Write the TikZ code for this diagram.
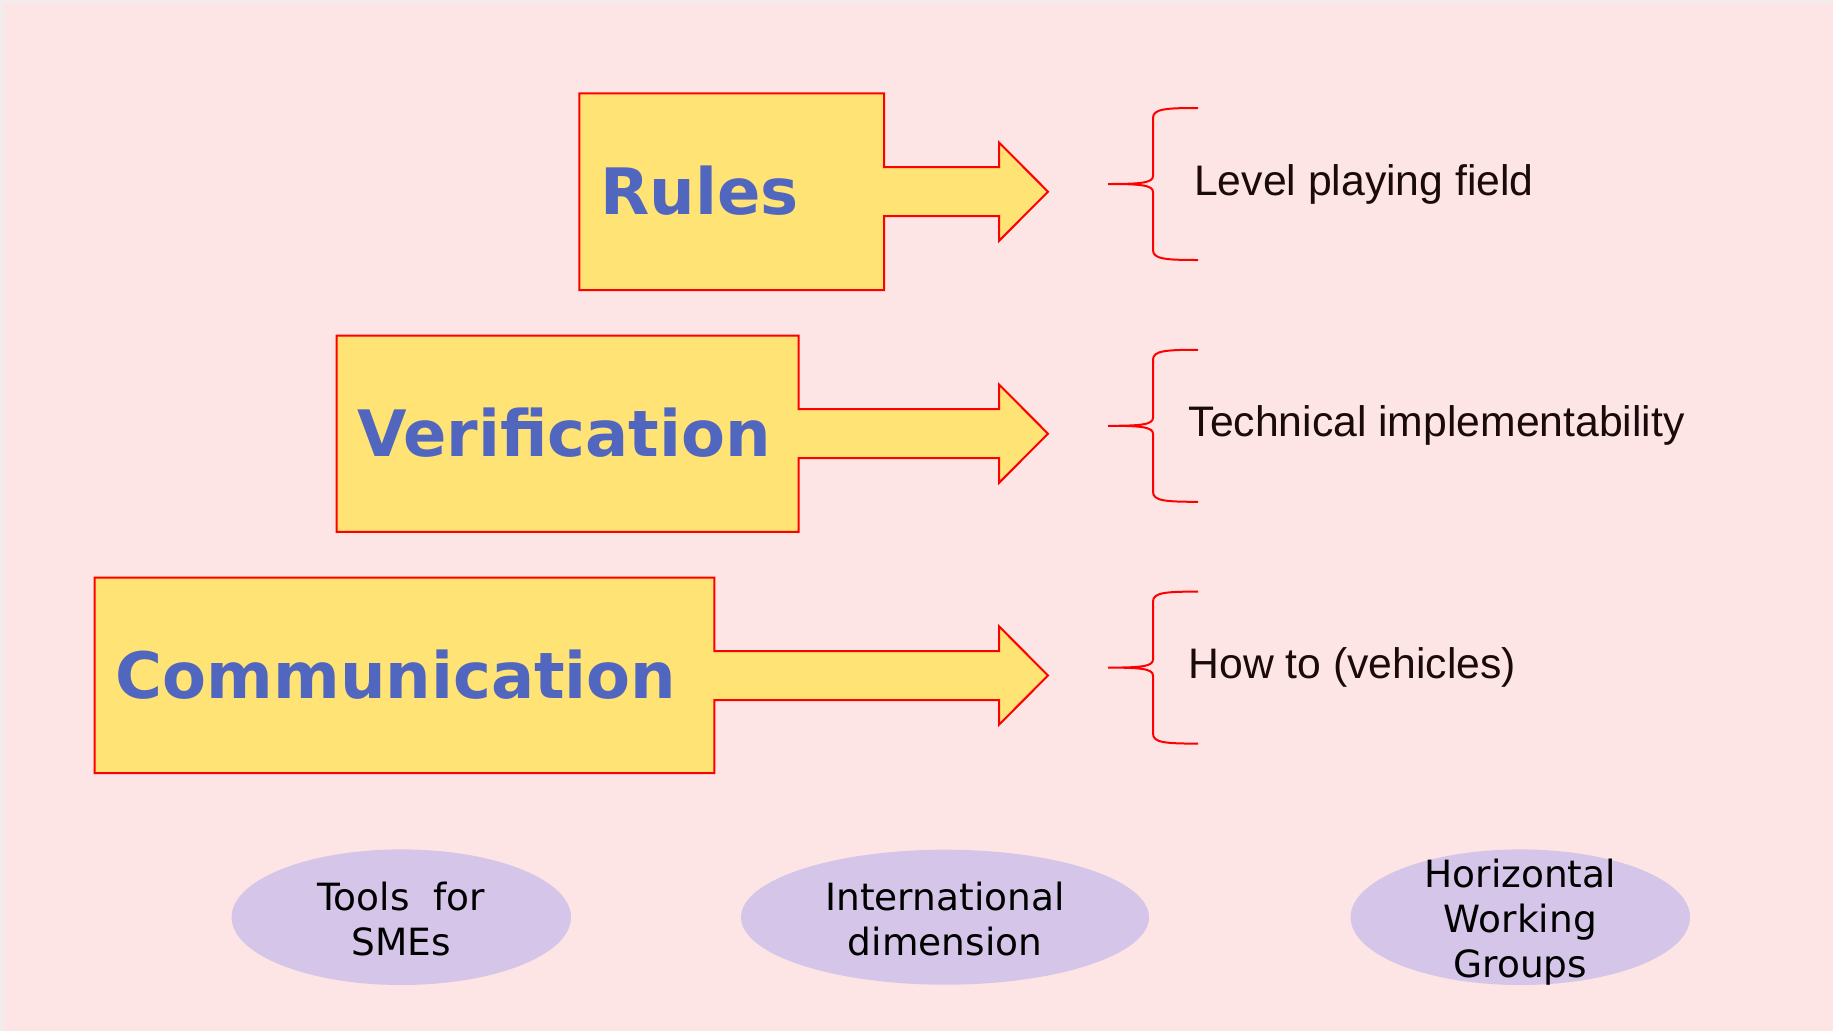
\documentclass[tikz,border=0pt]{standalone}
\usepackage{fontspec}
\usetikzlibrary{shapes.geometric}
\newfontfamily\dvs{DejaVu Sans}
\newfontfamily\lib{Liberation Sans}
\definecolor{bgpink}{HTML}{FDE5E5}
\definecolor{edgegray}{HTML}{F2ECEC}
\definecolor{boxfill}{HTML}{FFE375}
\definecolor{boxblue}{HTML}{5166BE}
\definecolor{lav}{HTML}{D5C5E8}
\definecolor{txt}{HTML}{1A0A0A}
\begin{document}
\begin{tikzpicture}[x=1pt,y=-1pt,
  blockarrow/.style={fill=boxfill,draw=red,line width=2pt,line join=miter},
  boxlabel/.style={anchor=base west,inner sep=0,text=boxblue,font=\dvs\bfseries\fontsize{64}{76}\selectfont},
  bracepath/.style={draw=red,line width=2pt},
  sidelabel/.style={anchor=base west,inner sep=0,text=txt,font=\lib\fontsize{42.7}{50}\selectfont},
  ovalshape/.style={fill=lav},
  ovaltext/.style={inner sep=0,align=center,text=black,font=\dvs\fontsize{37.5}{45}\selectfont}]
\useasboundingbox (0,0) rectangle (1833,1031);
\fill[edgegray] (0,0) rectangle (1833,1031);
\fill[bgpink] (4,3) rectangle (1833,1031);

% block arrows: left, top, right, bottom, centre y
\foreach \L/\T/\R/\B/\cy in {579.3/93.3/884/290/191.7, 336.7/335.5/798.5/531.9/433.7, 94.7/577.5/714.3/773/675.5}{
  \draw[blockarrow] (\L,\T) -- (\R,\T) -- (\R,{\cy-24.5}) -- (999,{\cy-24.5}) -- (999,{\cy-49.2})
    -- (1048,\cy) -- (999,{\cy+49.2}) -- (999,{\cy+24.5}) -- (\R,{\cy+24.5}) -- (\R,\B) -- (\L,\B) -- cycle;
}
\node[boxlabel] (rules) at (600.5,214.7) {Rules};
\node[boxlabel] (verif) at (357.2,456.7) {Verification};
\node[boxlabel] (comm) at (115.5,698.5) {Communication};

% braces
\foreach \t in {184,425.8,667.6}{
  \draw[bracepath] (1198,{\t-76}) .. controls (1165,{\t-76}) and (1153,{\t-75}) .. (1153,{\t-66})
    -- (1153,{\t-8}) .. controls (1153,{\t-1}) and (1140,\t) .. (1108,\t)
    .. controls (1140,\t) and (1153,{\t+1}) .. (1153,{\t+8})
    -- (1153,{\t+66}) .. controls (1153,{\t+75}) and (1165,{\t+76}) .. (1198,{\t+76});
}
\node[sidelabel] (level) at (1194,195) {Level playing field};
\node[sidelabel] (tech) at (1188.5,436.8) {Technical implementability};
\node[sidelabel] (how) at (1188.5,678.6) {How to (vehicles)};

% ovals
\fill[ovalshape] (401.3,917.2) ellipse [x radius=169.7, y radius=67.8];
\fill[ovalshape] (945,917.2) ellipse [x radius=204, y radius=67.5];
\fill[ovalshape] (1520.3,917.2) ellipse [x radius=169.7, y radius=67.8];
\node[ovaltext] (tools) at (401.3,919.5) {Tools\ \ for\\SMEs};
\node[ovaltext] (intl) at (945,919.5) {International\\dimension};
\node[ovaltext] (hwg) at (1520.3,922.5) {Horizontal\\Working\\Groups};
\end{tikzpicture}
\end{document}
